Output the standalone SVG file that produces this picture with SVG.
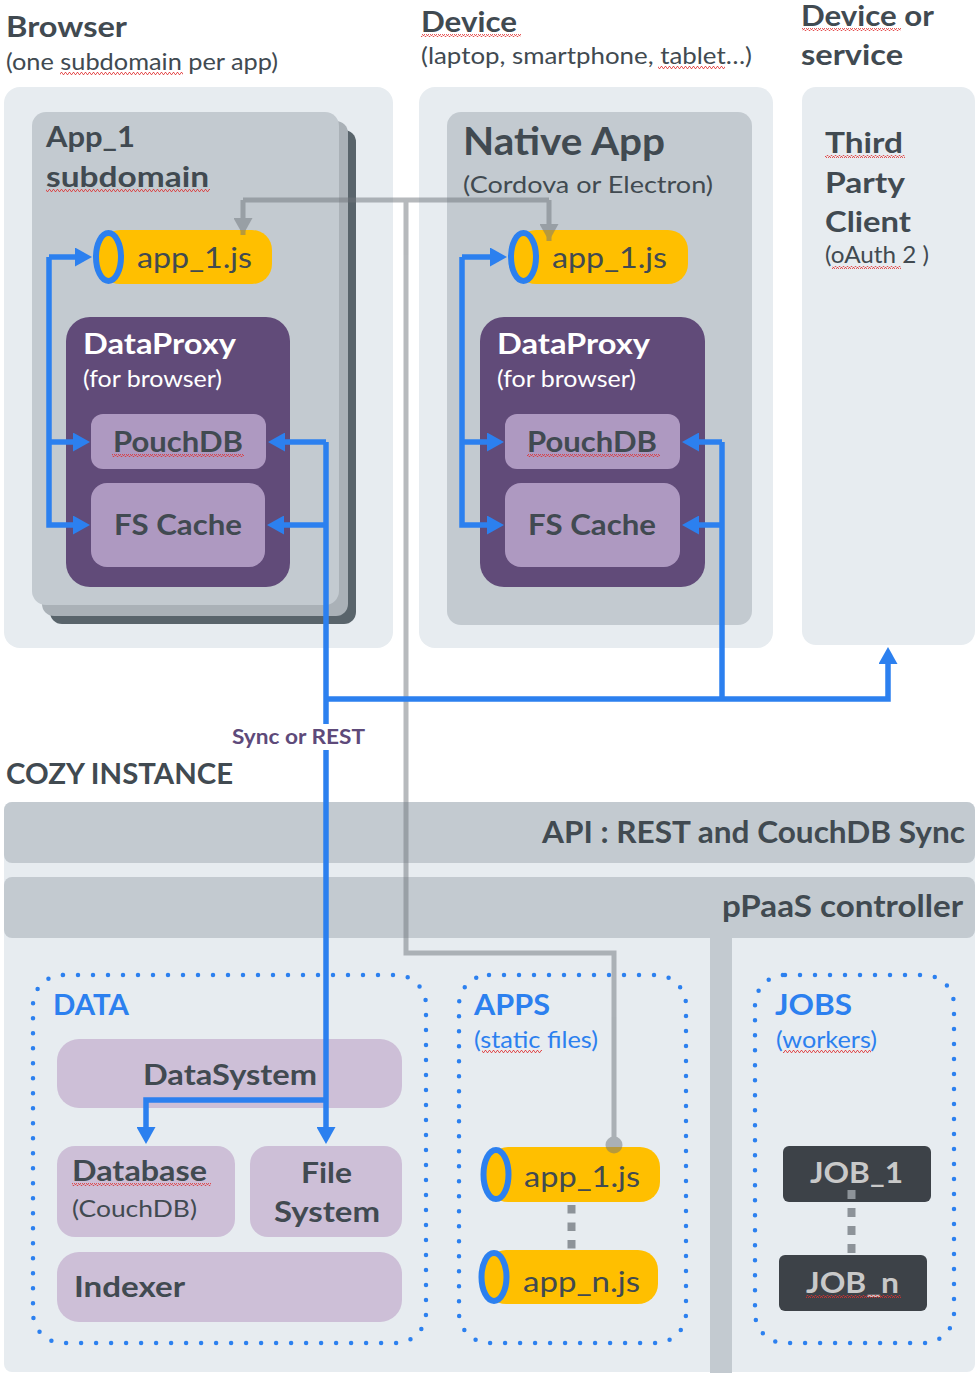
<svg xmlns="http://www.w3.org/2000/svg" width="977" height="1373" viewBox="0 0 977 1373">
<defs>
<style>
.t{font-family:Lato,"Noto Sans","Liberation Sans",sans-serif;fill:#414a51}
.b{font-weight:700}
.w{fill:#ffffff}
.bl{fill:#2c80ef}
.sy{fill:#5e4a7a}
.panel{fill:#e7ecf0}
.gray{fill:#c3cad0}
.dp{fill:#614b79}
.lp{fill:#ae99c1}
.li{fill:#cdbfd7}
.pill{fill:#ffbf00}
.ring{fill:#ffbf00;stroke:#2c80ef;stroke-width:6}
.job{fill:#3d4248}
.jt{fill:#c9c9c9}
.blue{fill:none;stroke:#2c80ef;stroke-width:5.5;stroke-linejoin:miter}
.dots{fill:none;stroke:#2c80ef;stroke-width:4.5;stroke-dasharray:0 15;stroke-linecap:round}
.gl{fill:none;stroke:#6f757b;stroke-width:5}
.dash{fill:none;stroke:#8d9399;stroke-width:8}
.sq{fill:url(#squig)}
</style>
<marker id="ab" markerUnits="userSpaceOnUse" markerWidth="17" markerHeight="19" refX="9" refY="9.5" orient="auto">
<path d="M0,0 L17,9.5 L0,19 z" fill="#2c80ef"/>
</marker>
<marker id="ag" markerUnits="userSpaceOnUse" markerWidth="17" markerHeight="19" refX="17" refY="9.5" orient="auto">
<path d="M0,0 L17,9.5 L0,19 z" fill="#6f757b"/>
</marker>
<pattern id="squig" patternUnits="userSpaceOnUse" width="4" height="3">
<path d="M0,2.5 L1,0.5 L2,0.5 L3,2.5 L4,2.5" fill="none" stroke="#e03030" stroke-width="0.8"/>
</pattern>
</defs>
<rect width="977" height="1373" fill="#ffffff"/>

<g id="browser">
<rect class="panel" x="4" y="87" width="389" height="561" rx="16"/>
<text class="t b" x="6" y="37" font-size="28" textLength="121" lengthAdjust="spacingAndGlyphs">Browser</text>
<text class="t" x="6" y="70" font-size="23" textLength="272" lengthAdjust="spacingAndGlyphs">(one subdomain per app)</text>
<rect class="sq" x="60" y="72" width="123" height="3"/>
</g>

<g id="app1-subdomain">
<rect x="50" y="130" width="306" height="494" rx="12" fill="#59646b"/>
<rect x="42" y="121" width="306" height="495" rx="12" fill="#aab1b7"/>
<rect class="gray" x="32" y="112" width="307" height="493" rx="14"/>
<text class="t b" x="46" y="147" font-size="28" textLength="89" lengthAdjust="spacingAndGlyphs">App_1</text>
<text class="t b" x="46" y="187" font-size="28" textLength="163" lengthAdjust="spacingAndGlyphs">subdomain</text>
<rect class="sq" x="46" y="189" width="164" height="3"/>
</g>

<g id="browser-app1js">
<rect class="pill" x="100" y="230" width="172" height="54" rx="20"/>
<ellipse class="ring" cx="108.5" cy="257" rx="12.5" ry="24"/>
<text class="t" x="137" y="268" font-size="29" textLength="115" lengthAdjust="spacingAndGlyphs">app_1.js</text>
</g>

<g id="browser-dataproxy">
<rect class="dp" x="66" y="317" width="224" height="270" rx="24"/>
<text class="t b w" x="83" y="354" font-size="28" textLength="153" lengthAdjust="spacingAndGlyphs">DataProxy</text>
<text class="t w" x="83" y="387" font-size="23" textLength="139" lengthAdjust="spacingAndGlyphs">(for browser)</text>
</g>
<g id="browser-pouchdb">
<rect class="lp" x="91" y="414" width="175" height="55" rx="12"/>
<text class="t b" x="113" y="452" font-size="28" textLength="130" lengthAdjust="spacingAndGlyphs">PouchDB</text>
<rect class="sq" x="112" y="454" width="132" height="3"/>
</g>
<g id="browser-fscache">
<rect class="lp" x="91" y="483" width="174" height="84" rx="16"/>
<text class="t b" x="114" y="535" font-size="28" textLength="128" lengthAdjust="spacingAndGlyphs">FS Cache</text>
</g>

<g id="device">
<rect class="panel" x="419" y="87" width="354" height="561" rx="16"/>
<text class="t b" x="421" y="32" font-size="28" textLength="96" lengthAdjust="spacingAndGlyphs">Device</text>
<rect class="sq" x="421" y="34" width="100" height="3"/>
<text class="t" x="421" y="64" font-size="23" textLength="331" lengthAdjust="spacingAndGlyphs">(laptop, smartphone, tablet…)</text>
<rect class="sq" x="658" y="66" width="67" height="3"/>
</g>
<g id="native-app">
<rect class="gray" x="447" y="112" width="305" height="513" rx="14"/>
<text class="t b" x="463" y="155" font-size="39" textLength="202" lengthAdjust="spacingAndGlyphs">Native App</text>
<text class="t" x="463" y="193" font-size="24" textLength="250" lengthAdjust="spacingAndGlyphs">(Cordova or Electron)</text>
</g>
<g id="native-app1js">
<rect class="pill" x="516" y="230" width="172" height="54" rx="20"/>
<ellipse class="ring" cx="523.5" cy="257" rx="12.5" ry="24"/>
<text class="t" x="552" y="268" font-size="29" textLength="115" lengthAdjust="spacingAndGlyphs">app_1.js</text>
</g>
<g id="native-dataproxy">
<rect class="dp" x="480" y="317" width="225" height="270" rx="24"/>
<text class="t b w" x="497" y="354" font-size="28" textLength="153" lengthAdjust="spacingAndGlyphs">DataProxy</text>
<text class="t w" x="497" y="387" font-size="23" textLength="139" lengthAdjust="spacingAndGlyphs">(for browser)</text>
</g>
<g id="native-pouchdb">
<rect class="lp" x="505" y="414" width="175" height="55" rx="12"/>
<text class="t b" x="527" y="452" font-size="28" textLength="130" lengthAdjust="spacingAndGlyphs">PouchDB</text>
<rect class="sq" x="527" y="454" width="133" height="3"/>
</g>
<g id="native-fscache">
<rect class="lp" x="505" y="483" width="175" height="84" rx="16"/>
<text class="t b" x="528" y="535" font-size="28" textLength="128" lengthAdjust="spacingAndGlyphs">FS Cache</text>
</g>

<g id="third-party">
<rect class="panel" x="802" y="87" width="173" height="558" rx="14"/>
<text class="t b" x="801" y="26" font-size="28" textLength="133" lengthAdjust="spacingAndGlyphs">Device or</text>
<rect class="sq" x="802" y="28" width="99" height="3"/>
<text class="t b" x="801" y="65" font-size="28" textLength="102" lengthAdjust="spacingAndGlyphs">service</text>
<text class="t b" x="825" y="153" font-size="29" textLength="78" lengthAdjust="spacingAndGlyphs">Third</text>
<rect class="sq" x="825" y="155" width="80" height="3"/>
<text class="t b" x="825" y="193" font-size="29" textLength="80" lengthAdjust="spacingAndGlyphs">Party</text>
<text class="t b" x="825" y="232" font-size="29" textLength="86" lengthAdjust="spacingAndGlyphs">Client</text>
<text class="t" x="825" y="263" font-size="23" textLength="104" lengthAdjust="spacingAndGlyphs">(oAuth 2 )</text>
<rect class="sq" x="832" y="266" width="69" height="3"/>
</g>

<g id="cozy-instance">
<text class="t b" x="6" y="784" font-size="28" textLength="227" lengthAdjust="spacingAndGlyphs">COZY INSTANCE</text>
<rect class="panel" x="4" y="802" width="971" height="570" rx="8"/>
<rect class="gray" x="710" y="930" width="22" height="443"/>
</g>
<g id="api">
<rect class="gray" x="4" y="802" width="971" height="61" rx="8"/>
<text class="t b" x="965" y="843" font-size="30" text-anchor="end" textLength="423" lengthAdjust="spacingAndGlyphs">API : REST and CouchDB Sync</text>
</g>
<g id="ppaas">
<rect class="gray" x="4" y="877" width="971" height="61" rx="8"/>
<text class="t b" x="963" y="917" font-size="30" text-anchor="end" textLength="241" lengthAdjust="spacingAndGlyphs">pPaaS controller</text>
</g>

<g id="data">
<rect class="dots" x="33" y="975" width="393" height="368" rx="30"/>
<text class="t b bl" x="53" y="1015" font-size="28" textLength="76" lengthAdjust="spacingAndGlyphs">DATA</text>
</g>
<g id="datasystem">
<rect class="li" x="57" y="1039" width="345" height="69" rx="22"/>
<text class="t b" x="143" y="1085" font-size="29" textLength="174" lengthAdjust="spacingAndGlyphs">DataSystem</text>
</g>
<g id="database">
<rect class="li" x="57" y="1146" width="178" height="91" rx="18"/>
<text class="t b" x="72" y="1181" font-size="29" textLength="135" lengthAdjust="spacingAndGlyphs">Database</text>
<rect class="sq" x="72" y="1183" width="139" height="3"/>
<text class="t" x="72" y="1217" font-size="24" textLength="125" lengthAdjust="spacingAndGlyphs">(CouchDB)</text>
</g>
<g id="filesystem">
<rect class="li" x="250" y="1146" width="152" height="91" rx="18"/>
<text class="t b" x="301" y="1183" font-size="29" textLength="51" lengthAdjust="spacingAndGlyphs">File</text>
<text class="t b" x="274" y="1222" font-size="29" textLength="106" lengthAdjust="spacingAndGlyphs">System</text>
</g>
<g id="indexer">
<rect class="li" x="57" y="1252" width="345" height="70" rx="22"/>
<text class="t b" x="74" y="1297" font-size="29" textLength="111" lengthAdjust="spacingAndGlyphs">Indexer</text>
</g>

<g id="apps">
<rect class="dots" x="459" y="975" width="227" height="368" rx="30"/>
<text class="t b bl" x="474" y="1015" font-size="28" textLength="76" lengthAdjust="spacingAndGlyphs">APPS</text>
<text class="t bl" x="474" y="1048" font-size="24" textLength="124" lengthAdjust="spacingAndGlyphs">(static files)</text>
<rect class="sq" x="482" y="1050" width="60" height="3"/>
</g>
<g id="apps-app1js">
<rect class="pill" x="488" y="1147" width="172" height="55" rx="20"/>
<ellipse class="ring" cx="496" cy="1174.5" rx="12.5" ry="24.5"/>
<text class="t" x="524" y="1187" font-size="29" textLength="116" lengthAdjust="spacingAndGlyphs">app_1.js</text>
</g>
<g id="apps-appnjs">
<rect class="pill" x="486" y="1250" width="172" height="54" rx="20"/>
<ellipse class="ring" cx="494" cy="1277" rx="12.5" ry="24"/>
<text class="t" x="523" y="1292" font-size="29" textLength="117" lengthAdjust="spacingAndGlyphs">app_n.js</text>
</g>

<g id="jobs">
<rect class="dots" x="755" y="975" width="199" height="368" rx="30"/>
<text class="t b bl" x="775" y="1015" font-size="28" textLength="77" lengthAdjust="spacingAndGlyphs">JOBS</text>
<text class="t bl" x="776" y="1048" font-size="24" textLength="101" lengthAdjust="spacingAndGlyphs">(workers)</text>
<rect class="sq" x="783" y="1050" width="88" height="3"/>
</g>
<g id="job1">
<rect class="job" x="783" y="1146" width="148" height="56" rx="6"/>
<text class="t b jt" x="810" y="1183" font-size="29" textLength="93" lengthAdjust="spacingAndGlyphs">JOB_1</text>
</g>
<g id="jobn">
<rect class="job" x="779" y="1255" width="148" height="56" rx="6"/>
<text class="t b jt" x="806" y="1293" font-size="29" textLength="93" lengthAdjust="spacingAndGlyphs">JOB_n</text>
<rect class="sq" x="806" y="1295" width="95" height="3"/>
</g>

<g id="connectors">
<path class="dash" d="M571.5,1205 V1250" stroke-dasharray="8.5 9"/>
<path class="dash" d="M851.5,1190 V1255" stroke-dasharray="9 9"/>
<g opacity="0.5">
<path class="gl" d="M243,200 H549"/>
<path class="gl" d="M243,200 V235" marker-end="url(#ag)"/>
<path class="gl" d="M549,200 V241" marker-end="url(#ag)"/>
<path class="gl" d="M406,200 V953 H614 V1145"/>
<circle cx="614" cy="1145" r="8.5" fill="#6f757b"/>
</g>
<path class="blue" d="M49,257 H84" marker-end="url(#ab)"/>
<path class="blue" d="M49,257 V525 H82" marker-end="url(#ab)"/>
<path class="blue" d="M49,442 H82" marker-end="url(#ab)"/>
<path class="blue" d="M326,442 H276" marker-end="url(#ab)"/>
<path class="blue" d="M326,525 H275" marker-end="url(#ab)"/>
<path class="blue" d="M326,442 V1136" marker-end="url(#ab)"/>
<path class="blue" d="M326,1100 H146 V1136" marker-end="url(#ab)"/>
<path class="blue" d="M326,699 H888 V655" marker-end="url(#ab)"/>
<path class="blue" d="M722,442 V699"/>
<path class="blue" d="M722,442 H690" marker-end="url(#ab)"/>
<path class="blue" d="M722,525 H690" marker-end="url(#ab)"/>
<path class="blue" d="M462,257 H499" marker-end="url(#ab)"/>
<path class="blue" d="M462,257 V525 H496" marker-end="url(#ab)"/>
<path class="blue" d="M462,442 H496" marker-end="url(#ab)"/>
<rect x="228" y="724" width="140" height="26" fill="#ffffff"/>
<text class="t b sy" x="232" y="744" font-size="20" textLength="133" lengthAdjust="spacingAndGlyphs">Sync or REST</text>
</g>
</svg>
